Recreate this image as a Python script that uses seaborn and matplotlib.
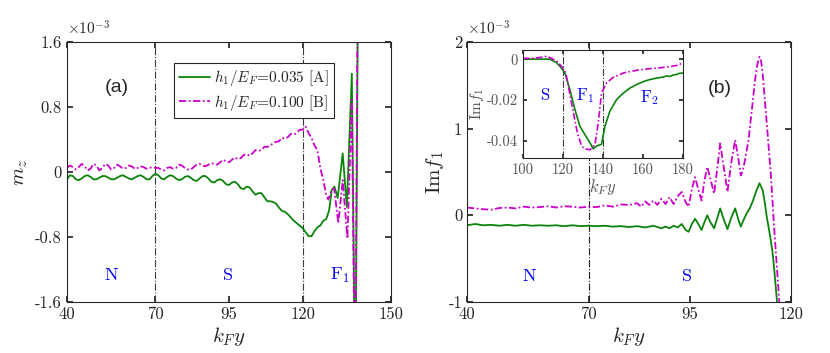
import matplotlib
matplotlib.use("Agg")
import matplotlib.pyplot as plt
import seaborn as sns

# ---- panel (a): m_z (units of 1e-3) ----
xa_grid = list(range(40, 129))
ga_grid = [-0.09, -0.04, -0.05, -0.09, -0.10, -0.08, -0.05, -0.04, -0.06, -0.09,
           -0.09, -0.07, -0.05, -0.05, -0.07, -0.09, -0.09, -0.07, -0.05, -0.04,
           -0.06, -0.08, -0.09, -0.07, -0.05, -0.04, -0.06, -0.09, -0.09, -0.05,
           -0.02, -0.04, -0.08, -0.09, -0.06, -0.04, -0.05, -0.08, -0.10, -0.09,
           -0.06, -0.05, -0.07, -0.10, -0.11, -0.08, -0.05, -0.05, -0.08, -0.12,
           -0.13, -0.10, -0.09, -0.11, -0.15, -0.16, -0.13, -0.12, -0.15, -0.20,
           -0.21, -0.18, -0.19, -0.24, -0.28, -0.26, -0.26, -0.31, -0.36, -0.36,
           -0.37, -0.39, -0.44, -0.48, -0.49, -0.52, -0.56, -0.60, -0.63, -0.66,
           -0.69, -0.74, -0.79, -0.79, -0.73, -0.68, -0.66, -0.60, -0.58]
ga_tail_x = [129.0, 129.9, 130.8, 131.9, 133.6, 135.0, 136.7, 137.9, 138.9]
ga_tail_y = [-0.47, -0.22, -0.18, -0.32, 0.23, -0.43, 1.21, -3.0, 3.0]

ma_grid = [0.05, 0.08, 0.06, 0.03, 0.06, 0.10, 0.07, 0.02, 0.04, 0.10,
           0.08, 0.02, 0.05, 0.10, 0.08, 0.03, 0.05, 0.09, 0.07, 0.04,
           0.05, 0.08, 0.07, 0.04, 0.05, 0.07, 0.06, 0.04, 0.05, 0.06,
           0.05, 0.05, 0.03, 0.02, 0.05, 0.06, 0.04, 0.05, 0.09, 0.08,
           0.05, 0.03, 0.03, 0.06, 0.09, 0.10, 0.08, 0.07, 0.09, 0.11,
           0.10, 0.09, 0.12, 0.15, 0.13, 0.12, 0.15, 0.18, 0.16, 0.17,
           0.21, 0.22, 0.20, 0.23, 0.27, 0.26, 0.27, 0.31, 0.31, 0.32,
           0.36, 0.37, 0.38, 0.42, 0.41, 0.43, 0.47, 0.46, 0.48, 0.52,
           0.52, 0.56, 0.48, 0.42, 0.33, 0.27, 0.05, -0.10, -0.28]
ma_tail_x = [128.7, 129.9, 130.7, 132.1, 133.6, 135.2, 136.7, 137.8, 138.8]
ma_tail_y = [-0.34, -0.22, -0.20, -0.63, -0.10, -0.82, 0.89, -3.0, 3.0]

# ---- panel (b): Im f_1 (units of 1e-3) ----
gb_x = [40, 42, 44, 46, 48, 50, 52, 54, 56, 58, 60, 62, 64, 66, 68, 70, 72, 74, 76, 78,
        80, 82, 84, 86, 88, 89, 90, 91, 92, 93, 94, 94.7, 95.5, 96.3, 97.1, 97.9, 98.6,
        99.3, 100.1, 101, 101.8, 102.5, 103.4, 104.3, 105.2, 106.2, 107, 107.6, 108.3,
        109, 109.8, 110.6, 111.4, 112.2, 113, 113.6, 114, 114.5, 115, 115.4, 115.8,
        116.5, 117]
gb_y = [-0.115, -0.10, -0.115, -0.11, -0.12, -0.11, -0.12, -0.11, -0.12, -0.115,
        -0.12, -0.115, -0.125, -0.115, -0.125, -0.12, -0.125, -0.12, -0.13, -0.125,
        -0.135, -0.125, -0.14, -0.12, -0.15, -0.13, -0.15, -0.12, -0.14, -0.10, -0.17,
        -0.19, -0.10, -0.04, -0.10, -0.17, -0.08, 0.0, -0.08, -0.15, -0.03, 0.08,
        -0.05, -0.16, -0.03, 0.08, -0.05, -0.13, -0.05, 0.02, 0.08, 0.17, 0.28, 0.37,
        0.29, 0.12, -0.02, -0.15, -0.29, -0.42, -0.60, -0.98, -1.3]

mb_x = [40, 42, 44, 46, 48, 50, 52, 54, 56, 58, 60, 62, 64, 66, 68, 70, 72, 74, 76, 78,
        80, 82, 83, 84, 85, 86, 87, 88, 89, 90, 91, 92, 93, 94, 94.7, 95.5, 96.3, 97.1,
        97.9, 98.6, 99.3, 100.1, 101, 101.8, 102.5, 103.4, 104.3, 105.2, 106.2, 107,
        107.6, 108.1, 108.6, 109.5, 110.3, 111.1, 111.7, 112.2, 112.6, 113, 114, 115,
        115.8, 116.5, 117.1, 117.5]
mb_y = [0.09, 0.08, 0.07, 0.065, 0.085, 0.09, 0.08, 0.10, 0.09, 0.095, 0.105, 0.09,
        0.105, 0.10, 0.09, 0.10, 0.095, 0.115, 0.10, 0.125, 0.12, 0.14, 0.10, 0.16,
        0.12, 0.17, 0.12, 0.19, 0.13, 0.21, 0.13, 0.22, 0.27, 0.15, 0.10, 0.30, 0.44,
        0.30, 0.17, 0.40, 0.56, 0.42, 0.25, 0.55, 0.83, 0.55, 0.27, 0.60, 0.87, 0.65,
        0.46, 0.52, 0.63, 0.87, 1.21, 1.56, 1.75, 1.83, 1.78, 1.63, 1.06, 0.48, -0.13,
        -0.60, -1.0, -1.3]

# ---- inset of (b) ----
gi_x = [100, 104, 108, 113.5, 116.8, 119.3, 121, 123.5, 126, 128.5, 131, 133.5, 135.2,
        136.8, 139.3, 141, 143.5, 146.8, 150, 153.5, 157, 160.2, 163.5, 166.8, 170, 172,
        173.5, 175, 177, 178, 180]
gi_y = [0, 0, 0, 0, -0.0017, -0.0044, -0.0068, -0.015, -0.0247, -0.033, -0.037, -0.041,
        -0.044, -0.0426, -0.0418, -0.033, -0.0255, -0.0199, -0.0168, -0.0142, -0.0124,
        -0.011, -0.0100, -0.0093, -0.0088, -0.0082, -0.0085, -0.0078, -0.0075, -0.0070,
        -0.0068]
mi_x = [100, 104, 108, 110, 112, 114, 117, 119.3, 121, 121.8, 124.3, 127.2, 129.3, 131,
        133.5, 136, 137.7, 139.3, 141.8, 145, 150.2, 154, 158.5, 163, 167, 171, 174, 176,
        178, 179, 180]
mi_y = [0.0005, 0.0003, 0.0008, 0.0010, 0.0015, 0.0005, -0.0010, -0.0035, -0.0060,
        -0.0085, -0.0215, -0.036, -0.0426, -0.0440, -0.0445, -0.042, -0.031, -0.0166,
        -0.0117, -0.0090, -0.0068, -0.0060, -0.0052, -0.0047, -0.0044, -0.0040, -0.0036,
        -0.0032, -0.0030, -0.0022, -0.0028]

legend_labels = [r"$h_1/E_F\!=\!$0.035 [A]", r"$h_1/E_F\!=\!$0.100 [B]"]

GREEN = "#0a840a"
MAGENTA = "#cc00cc"
GRID = "#3a3a3a"
SERIF = "cmr10"
DASHDOT = [4, 1.4, 1, 1.4]

sns.set_theme(style="ticks")
plt.rcParams.update({
    "font.family": SERIF,
    "mathtext.fontset": "cm",
    "axes.formatter.use_mathtext": False,
    "axes.edgecolor": "#262626",
    "axes.linewidth": 0.8,
    "xtick.direction": "in",
    "ytick.direction": "in",
    "xtick.top": True,
    "ytick.right": True,
    "xtick.major.size": 4,
    "ytick.major.size": 4,
    "xtick.color": "#262626",
    "ytick.color": "#262626",
})

fig = plt.figure(figsize=(8.3, 3.53), dpi=100)
ax_a = fig.add_axes([0.0807, 0.1445, 0.3904, 0.7365])
ax_b = fig.add_axes([0.5627, 0.1445, 0.3904, 0.7365])
ax_i = fig.add_axes([0.630, 0.5524, 0.1928, 0.306])


def tick_text(vals):
    return [("%g" % v) for v in vals]


# panel (a)
for xv in (70, 120):
    ax_a.axvline(xv, color=GRID, lw=0.8, ls="-.", zorder=1)
sns.lineplot(x=xa_grid + ga_tail_x, y=ga_grid + ga_tail_y, ax=ax_a, color=GREEN,
             lw=1.3, label=legend_labels[0], errorbar=None)
sns.lineplot(x=xa_grid + ma_tail_x, y=ma_grid + ma_tail_y, ax=ax_a, color=MAGENTA,
             lw=1.3, ls="-.", label=legend_labels[1], errorbar=None)
ax_a.lines[-1].set_dashes(DASHDOT)
ax_a.set_xlim(40, 150)
ax_a.set_ylim(-1.6, 1.6)
xt = [40, 70, 95, 120, 150]
yt = [-1.6, -0.8, 0, 0.8, 1.6]
ax_a.set_xticks(xt, tick_text(xt), fontsize=12)
ax_a.set_yticks(yt, tick_text(yt), fontsize=12)
ax_a.set_xlabel(r"$k_F y$", fontsize=15, labelpad=2)
ax_a.set_ylabel(r"$m_z$", fontsize=15, labelpad=4)
ax_a.text(0.0, 1.015, r"$\times10^{-3}$", transform=ax_a.transAxes, fontsize=11,
          va="bottom", ha="left", color="#262626")
ax_a.text(56.9, 1.04, "(a)", family="Liberation Sans", fontsize=14, ha="center",
          va="center")
for lab, xv in (("N", 55), ("S", 94.7), (r"F$_1$", 132.7)):
    ax_a.text(xv, -1.27, lab, color="blue", fontsize=13, ha="center", va="center")
leg = ax_a.legend(loc="upper left", bbox_to_anchor=(0.3056, 0.95), fontsize=11,
                  frameon=True, fancybox=False, handlelength=2.0,
                  borderpad=0.35, labelspacing=0.3, handletextpad=0.3)
leg.get_frame().set_edgecolor("#262626")
leg.get_frame().set_linewidth(0.8)
leg.get_frame().set_alpha(1)
leg.get_lines()[1].set_dashes(DASHDOT)

# panel (b)
ax_b.axvline(70, color="#202020", lw=0.8, ls="-.", zorder=1)
sns.lineplot(x=gb_x, y=gb_y, ax=ax_b, color=GREEN, lw=1.3, errorbar=None)
sns.lineplot(x=mb_x, y=mb_y, ax=ax_b, color=MAGENTA, lw=1.3, ls="-.", errorbar=None)
ax_b.lines[-1].set_dashes(DASHDOT)
ax_b.set_xlim(40, 120)
ax_b.set_ylim(-1, 2)
xt = [40, 70, 95, 120]
yt = [-1, 0, 1, 2]
ax_b.set_xticks(xt, tick_text(xt), fontsize=12)
ax_b.set_yticks(yt, tick_text(yt), fontsize=12)
ax_b.set_xlabel(r"$k_F y$", fontsize=15, labelpad=2)
ax_b.set_ylabel(r"$\mathrm{Im}f_1$", fontsize=15, labelpad=2)
ax_b.text(0.0, 1.015, r"$\times10^{-3}$", transform=ax_b.transAxes, fontsize=11,
          va="bottom", ha="left", color="#262626")
ax_b.text(102.5, 1.46, "(b)", family="Liberation Sans", fontsize=14, ha="center",
          va="center")
for lab, xv in (("N", 55.3), ("S", 94.3)):
    ax_b.text(xv, -0.70, lab, color="blue", fontsize=13, ha="center", va="center")

# inset
for xv in (120, 140):
    ax_i.axvline(xv, color=GRID, lw=0.8, ls="-.", zorder=1)
sns.lineplot(x=gi_x, y=gi_y, ax=ax_i, color=GREEN, lw=1.2, errorbar=None)
sns.lineplot(x=mi_x, y=mi_y, ax=ax_i, color=MAGENTA, lw=1.2, ls="-.", errorbar=None)
ax_i.lines[-1].set_dashes(DASHDOT)
ax_i.set_xlim(100, 180)
ax_i.set_ylim(-0.0485, 0.0045)
xt = [100, 120, 140, 160, 180]
yt = [-0.04, -0.02, 0]
ax_i.set_xticks(xt, tick_text(xt), fontsize=10.5, color="#555555")
ax_i.set_yticks(yt, tick_text(yt), fontsize=10.5, color="#555555")
ax_i.tick_params(length=3)
ax_i.set_xlabel(r"$k_F y$", fontsize=12, labelpad=0, color="#555555")
ax_i.set_ylabel(r"$\mathrm{Im}f_1$", fontsize=11, labelpad=1, color="#555555")
for lab, xv, yv in (("S", 111, -0.018), (r"F$_1$", 131, -0.018),
                    (r"F$_2$", 163.5, -0.019)):
    ax_i.text(xv, yv, lab, color="blue", fontsize=12, ha="center", va="center")

fig.savefig("out.png", dpi=100)
